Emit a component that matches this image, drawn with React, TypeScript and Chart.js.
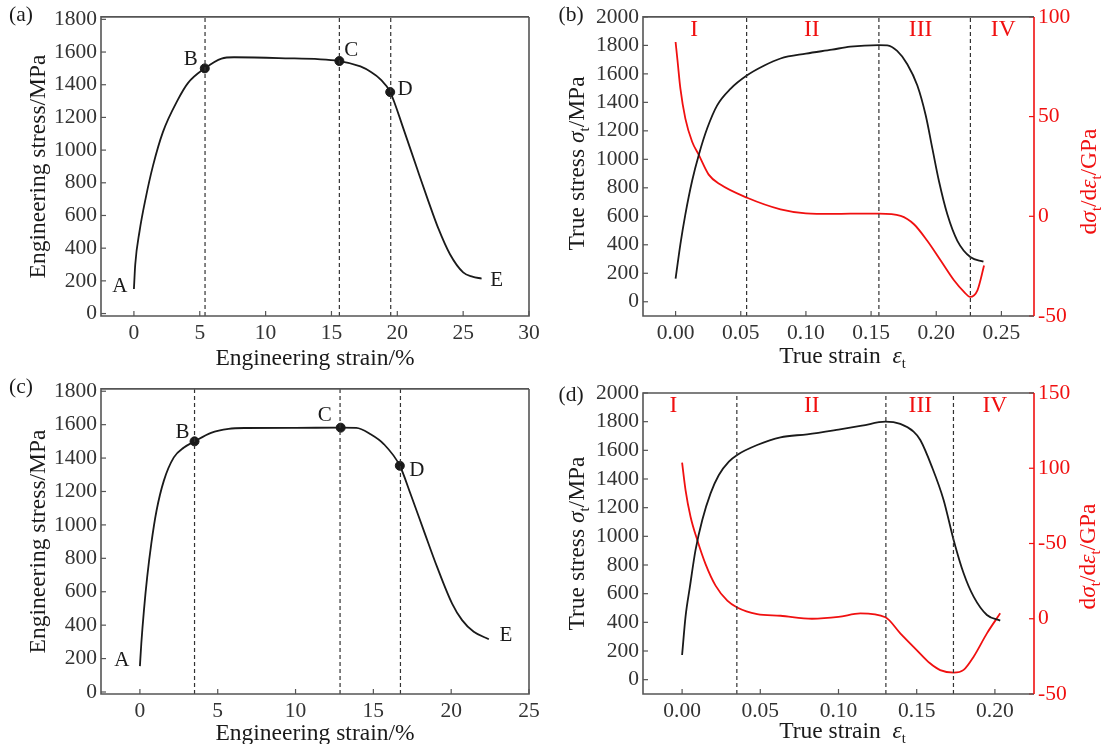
import React, { useEffect, useRef } from "react";
import { Chart, registerables } from "chart.js";
Chart.register(...registerables);

// ---------------- data ----------------
// (a) engineering stress-strain
const aStrain = [0, 0.1, 0.43, 0.89, 1.45, 2.2, 3.35, 4.1, 5.38, 6.65, 7.6, 11, 15.6, 17.2, 18.0, 18.7, 19.46, 20.47, 21.5, 22.37, 23.1, 24.0, 25.0, 25.7, 26.4];
const aStress = [150, 300, 505, 705, 905, 1110, 1310, 1410, 1500, 1560, 1568, 1563, 1545, 1512, 1478, 1435, 1355, 1130, 887, 685, 524, 363, 252, 226, 214];
const aMarkStrain = [5.38, 15.6, 19.46];
const aMarkStress = [1500, 1545, 1355];
const aDividers = [5.4, 15.6, 19.5];
const aXTicks = [0, 5, 10, 15, 20, 25, 30];
const aYTicks = [0, 200, 400, 600, 800, 1000, 1200, 1400, 1600, 1800];

// (b) true stress and hardening rate
const bStrain = [0, 0.0037, 0.0075, 0.0127, 0.0178, 0.0242, 0.0319, 0.0421, 0.0549, 0.0677, 0.0805, 0.1, 0.12, 0.134, 0.156, 0.1624, 0.17, 0.1778, 0.1855, 0.1919, 0.197, 0.2021, 0.2085, 0.2162, 0.2264, 0.2362];
const bStress = [162, 405, 614, 850, 1031, 1216, 1379, 1495, 1590, 1657, 1708, 1742, 1770, 1791, 1802, 1800, 1761, 1668, 1518, 1309, 1077, 846, 614, 428, 312, 282];
const bRateStrain = [0, 0.0015, 0.0037, 0.0075, 0.0127, 0.0178, 0.0254, 0.0344, 0.0549, 0.0805, 0.1, 0.12, 0.134, 0.156, 0.1727, 0.1829, 0.1931, 0.2034, 0.2136, 0.2213, 0.2259, 0.2316, 0.2367];
const bRate = [87.4, 78, 64, 49, 37.4, 30.8, 20.9, 15.9, 9.3, 3.5, 1.5, 1.2, 1.3, 1.3, 0.2, -4, -12.3, -22.2, -32.1, -37.9, -40.4, -37.1, -24.7];
const bDividers = [0.0545, 0.156, 0.2262];
const bRegionX = [0.0143, 0.1045, 0.188, 0.2514];
const bXTicks = [0, 0.05, 0.1, 0.15, 0.2, 0.25];
const bYTicks = [0, 200, 400, 600, 800, 1000, 1200, 1400, 1600, 1800, 2000];
const bY2Ticks = [-50, 0, 50, 100];
const bY2Labels = ["-50", "0", "50", "100"];

// (c) engineering stress-strain
const cStrain = [0, 0.09, 0.26, 0.47, 0.73, 1.07, 1.54, 2.18, 2.83, 3.51, 4.57, 5.7, 6.8, 10, 12.9, 13.9, 14.82, 15.67, 16.7, 17.39, 18.24, 19.1, 20.06, 20.7, 21.45, 22.42];
const cStress = [155, 290, 490, 690, 887, 1086, 1265, 1404, 1463, 1500, 1551, 1575, 1580, 1581, 1582, 1581, 1543, 1484, 1354, 1185, 966, 747, 529, 430, 360, 316];
const cMarkStrain = [3.51, 12.9, 16.7];
const cMarkStress = [1500, 1582, 1354];
const cDividers = [3.51, 12.86, 16.74];
const cXTicks = [0, 5, 10, 15, 20, 25];
const cYTicks = [0, 200, 400, 600, 800, 1000, 1200, 1400, 1600, 1800];

// (d) true stress and hardening rate
const dStrain = [0, 0.0022, 0.005, 0.0086, 0.0129, 0.0182, 0.0235, 0.0299, 0.0352, 0.048, 0.0629, 0.08, 0.1, 0.115, 0.13, 0.1395, 0.148, 0.1523, 0.1597, 0.1672, 0.1736, 0.18, 0.1864, 0.1949, 0.2034];
const dStress = [172, 440, 649, 905, 1114, 1300, 1428, 1521, 1568, 1637, 1691, 1712, 1745, 1772, 1800, 1784, 1730, 1672, 1486, 1254, 975, 742, 579, 451, 412];
const dRateStrain = [0, 0.0022, 0.0054, 0.0097, 0.015, 0.0214, 0.0289, 0.0352, 0.048, 0.0629, 0.083, 0.1, 0.114, 0.13, 0.1395, 0.15, 0.1585, 0.165, 0.1736, 0.18, 0.1864, 0.1949, 0.2034];
const dRate = [103.7, 85.5, 67.8, 52.3, 36.3, 22, 12, 7.5, 3.1, 2, 0, 1.2, 3.6, 1, -9.7, -20.8, -29.6, -34.1, -35.8, -34, -25.2, -9.7, 3.6];
const dDividers = [0.035, 0.1303, 0.1735];
const dRegionX = [-0.0055, 0.0829, 0.1523, 0.2];
const dXTicks = [0, 0.05, 0.1, 0.15, 0.2];
const dYTicks = [0, 200, 400, 600, 800, 1000, 1200, 1400, 1600, 1800, 2000];
const dY2Ticks = [-50, 0, 50, 100, 150];
const dY2Labels = ["-50", "0", "-50", "100", "150"];

const regionNames = ["I", "II", "III", "IV"];
const pointNames = ["A", "B", "C", "D", "E"];

// ---------------- styling ----------------
const SERIF = '"Liberation Serif", "Times New Roman", serif';
const RED = "#f01010";
const AXIS = "#555555";
const INK = "#1a1a1a";
const TICK_SIZE = 21.5;
const TITLE_SIZE = 23.5;
const LETTER_SIZE = 21;

type Seg = { t: string; it?: boolean; sub?: boolean };

function drawRich(ctx: CanvasRenderingContext2D, segs: Seg[], cx: number, cy: number, rot: number, size: number, color: string) {
  ctx.save();
  ctx.translate(cx, cy);
  ctx.rotate(rot);
  ctx.textBaseline = "alphabetic";
  ctx.textAlign = "left";
  let w = 0;
  const parts = segs.map((s) => {
    const fs = s.sub ? size * 0.62 : size;
    const font = `${s.it ? "italic " : ""}${fs}px ${SERIF}`;
    ctx.font = font;
    const mw = ctx.measureText(s.t).width;
    w += mw;
    return { ...s, font, mw };
  });
  let x = -w / 2;
  ctx.fillStyle = color;
  const base = size * 0.33;
  for (const p of parts) {
    ctx.font = p.font;
    ctx.fillText(p.t, x, base + (p.sub ? size * 0.22 : 0));
    x += p.mw;
  }
  ctx.restore();
}

type Title = { side: "bottom" | "left" | "right"; off: number; shift: number; segs: Seg[]; color: string };
type Overlay = {
  redRight?: boolean;
  tag: { text: string; x: number; y: number };
  letters?: { text: string; x: number; y: number; dx: number; dy: number }[];
  regions?: { text: string; x: number }[];
  titles: Title[];
};

function makeOverlay(o: Overlay) {
  return {
    id: "overlay",
    afterDraw(chart: any) {
      const ctx: CanvasRenderingContext2D = chart.ctx;
      const ca = chart.chartArea;
      ctx.save();
      // inward tick marks
      for (const id of Object.keys(chart.scales)) {
        const s = chart.scales[id];
        ctx.strokeStyle = id === "y2" ? RED : AXIS;
        ctx.lineWidth = 1.2;
        for (const t of s.ticks) {
          const p = s.getPixelForValue(t.value);
          ctx.beginPath();
          if (s.axis === "x") {
            ctx.moveTo(p, ca.bottom);
            ctx.lineTo(p, ca.bottom - 5);
          } else if (s.position === "left") {
            ctx.moveTo(ca.left, p);
            ctx.lineTo(ca.left + 5, p);
          } else {
            ctx.moveTo(ca.right, p);
            ctx.lineTo(ca.right - 5, p);
          }
          ctx.stroke();
        }
      }
      // frame
      ctx.lineWidth = 1.6;
      ctx.strokeStyle = AXIS;
      ctx.beginPath();
      ctx.moveTo(ca.right, ca.top);
      ctx.lineTo(ca.left, ca.top);
      ctx.lineTo(ca.left, ca.bottom);
      ctx.lineTo(ca.right, ca.bottom);
      if (!o.redRight) ctx.lineTo(ca.right, ca.top);
      ctx.stroke();
      if (o.redRight) {
        ctx.strokeStyle = RED;
        ctx.beginPath();
        ctx.moveTo(ca.right, ca.top);
        ctx.lineTo(ca.right, ca.bottom);
        ctx.stroke();
      }
      // panel tag
      ctx.fillStyle = INK;
      ctx.font = `${TICK_SIZE}px ${SERIF}`;
      ctx.textAlign = "center";
      ctx.textBaseline = "middle";
      ctx.fillText(o.tag.text, o.tag.x, o.tag.y);
      // point letters
      const xs = chart.scales.x;
      const ys = chart.scales.y;
      ctx.font = `${LETTER_SIZE}px ${SERIF}`;
      for (const l of o.letters || []) {
        ctx.fillText(l.text, xs.getPixelForValue(l.x) + l.dx, ys.getPixelForValue(l.y) + l.dy);
      }
      // region labels
      ctx.fillStyle = RED;
      ctx.font = `${TITLE_SIZE}px ${SERIF}`;
      for (const r of o.regions || []) {
        ctx.fillText(r.text, xs.getPixelForValue(r.x), ca.top + 13);
      }
      // axis titles
      const cxm = (ca.left + ca.right) / 2;
      const cym = (ca.top + ca.bottom) / 2;
      for (const t of o.titles) {
        if (t.side === "bottom") drawRich(ctx, t.segs, cxm + t.shift, ca.bottom + t.off, 0, TITLE_SIZE, t.color);
        else if (t.side === "left") drawRich(ctx, t.segs, ca.left - t.off, cym + t.shift, -Math.PI / 2, TITLE_SIZE, t.color);
        else drawRich(ctx, t.segs, ca.right + t.off, cym + t.shift, -Math.PI / 2, TITLE_SIZE, t.color);
      }
      ctx.restore();
    },
  };
}

function pts(xs: number[], ys: number[]) {
  return xs.map((x, i) => ({ x, y: ys[i] }));
}

function curve(xs: number[], ys: number[], color: string, yAxisID = "y") {
  return {
    data: pts(xs, ys),
    borderColor: color,
    backgroundColor: color,
    borderWidth: 1.8,
    pointRadius: 0,
    showLine: true,
    fill: false,
    cubicInterpolationMode: "monotone",
    yAxisID,
  };
}

function dividers(xs: number[], yMin: number, yMax: number) {
  return xs.map((x) => ({
    data: [{ x, y: yMin }, { x, y: yMax }],
    borderColor: "#333",
    borderWidth: 1.2,
    borderDash: [4, 3],
    pointRadius: 0,
    showLine: true,
    fill: false,
    yAxisID: "y",
  }));
}

function markers(xs: number[], ys: number[]) {
  return {
    data: pts(xs, ys),
    showLine: false,
    pointRadius: 4.5,
    pointBackgroundColor: INK,
    pointBorderColor: INK,
    yAxisID: "y",
  };
}

function scaleOpts(min: number, max: number, ticks: number[], fmt: (v: number) => string, fit: (s: any) => void, position: string, color = "#333") {
  return {
    type: "linear",
    position,
    min,
    max,
    grid: { display: false, drawTicks: false },
    border: { display: false },
    afterBuildTicks: (s: any) => {
      s.ticks = ticks.map((v) => ({ value: v }));
    },
    afterFit: fit,
    ticks: {
      font: { family: SERIF, size: TICK_SIZE },
      color,
      padding: 4,
      maxRotation: 0,
      autoSkip: false,
      callback: (v: any) => fmt(Number(v)),
    },
  };
}

function baseOptions(padding: any, scales: any) {
  return {
    responsive: false,
    devicePixelRatio: 1,
    animation: false,
    layout: { padding },
    events: [],
    plugins: { legend: { display: false }, tooltip: { enabled: false } },
    scales,
  };
}

const int = (v: number) => String(Math.round(v));
const dec2 = (v: number) => v.toFixed(2);
const lookup = (ticks: number[], labels: string[]) => (v: number) => {
  const i = ticks.findIndex((t) => Math.abs(t - v) < 1e-9);
  return i >= 0 ? labels[i] : "";
};

function cfgA() {
  return {
    type: "scatter",
    data: {
      datasets: [...dividers(aDividers, -15, 1815), curve(aStrain, aStress, INK), markers(aMarkStrain, aMarkStress)],
    },
    options: baseOptions(
      { top: 13, right: 21, left: 0, bottom: 0 },
      {
        x: scaleOpts(-2.5, 30, aXTicks, int, (s) => (s.height = 56), "bottom"),
        y: scaleOpts(-15, 1815, aYTicks, int, (s) => (s.width = 101), "left"),
      }
    ),
    plugins: [
      makeOverlay({
        tag: { text: "(a)", x: 21, y: 15 },
        letters: [
          { text: pointNames[0], x: aStrain[0], y: aStress[0], dx: -14, dy: -3 },
          { text: pointNames[1], x: aMarkStrain[0], y: aMarkStress[0], dx: -14, dy: -9 },
          { text: pointNames[2], x: aMarkStrain[1], y: aMarkStress[1], dx: 12, dy: -11 },
          { text: pointNames[3], x: aMarkStrain[2], y: aMarkStress[2], dx: 15, dy: -3 },
          { text: pointNames[4], x: aStrain[aStrain.length - 1], y: aStress[aStress.length - 1], dx: 15, dy: 2 },
        ],
        titles: [
          { side: "bottom", off: 41, shift: 0, segs: [{ t: "Engineering strain/%" }], color: INK },
          { side: "left", off: 64, shift: 0, segs: [{ t: "Engineering stress/MPa" }], color: INK },
        ],
      }),
    ],
  };
}

function cfgB() {
  return {
    type: "scatter",
    data: {
      datasets: [...dividers(bDividers, -100, 2000), curve(bStrain, bStress, INK), curve(bRateStrain, bRate, RED, "y2")],
    },
    options: baseOptions(
      { top: 14, right: 0, left: 0, bottom: 0 },
      {
        x: scaleOpts(-0.025, 0.275, bXTicks, dec2, (s) => (s.height = 56), "bottom"),
        y: scaleOpts(-100, 2000, bYTicks, int, (s) => (s.width = 93), "left"),
        y2: scaleOpts(-50, 100, bY2Ticks, lookup(bY2Ticks, bY2Labels), (s) => (s.width = 67), "right", RED),
      }
    ),
    plugins: [
      makeOverlay({
        redRight: true,
        tag: { text: "(b)", x: 21, y: 15 },
        regions: regionNames.map((t, i) => ({ text: t, x: bRegionX[i] })),
        titles: [
          { side: "bottom", off: 39, shift: 4, segs: [{ t: "True strain  " }, { t: "ε", it: true }, { t: "t", sub: true }], color: INK },
          { side: "left", off: 67, shift: -3, segs: [{ t: "True stress " }, { t: "σ", it: true }, { t: "t", sub: true }, { t: "/MPa" }], color: INK },
          { side: "right", off: 54, shift: 15, segs: [{ t: "d" }, { t: "σ", it: true }, { t: "t", sub: true }, { t: "/d" }, { t: "ε", it: true }, { t: "t", sub: true }, { t: "/GPa" }], color: RED },
        ],
      }),
    ],
  };
}

function cfgC() {
  return {
    type: "scatter",
    data: {
      datasets: [...dividers(cDividers, -12, 1814), curve(cStrain, cStress, INK), markers(cMarkStrain, cMarkStress)],
    },
    options: baseOptions(
      { top: 16, right: 21, left: 0, bottom: 0 },
      {
        x: scaleOpts(-2.5, 25, cXTicks, int, (s) => (s.height = 50), "bottom"),
        y: scaleOpts(-12, 1814, cYTicks, int, (s) => (s.width = 101), "left"),
      }
    ),
    plugins: [
      makeOverlay({
        tag: { text: "(c)", x: 21, y: 15 },
        letters: [
          { text: pointNames[0], x: cStrain[0], y: cStress[0], dx: -18, dy: -6 },
          { text: pointNames[1], x: cMarkStrain[0], y: cMarkStress[0], dx: -12, dy: -9 },
          { text: pointNames[2], x: cMarkStrain[1], y: cMarkStress[1], dx: -16, dy: -12 },
          { text: pointNames[3], x: cMarkStrain[2], y: cMarkStress[2], dx: 17, dy: 5 },
          { text: pointNames[4], x: cStrain[cStrain.length - 1], y: cStress[cStress.length - 1], dx: 17, dy: -4 },
        ],
        titles: [
          { side: "bottom", off: 38, shift: 0, segs: [{ t: "Engineering strain/%" }], color: INK },
          { side: "left", off: 64, shift: 0, segs: [{ t: "Engineering stress/MPa" }], color: INK },
        ],
      }),
    ],
  };
}

function cfgD() {
  return {
    type: "scatter",
    data: {
      datasets: [...dividers(dDividers, -100, 2000), curve(dStrain, dStress, INK), curve(dRateStrain, dRate, RED, "y2")],
    },
    options: baseOptions(
      { top: 21, right: 0, left: 0, bottom: 0 },
      {
        x: scaleOpts(-0.025, 0.225, dXTicks, dec2, (s) => (s.height = 50), "bottom"),
        y: scaleOpts(-100, 2000, dYTicks, int, (s) => (s.width = 93), "left"),
        y2: scaleOpts(-50, 150, dY2Ticks, lookup(dY2Ticks, dY2Labels), (s) => (s.width = 67), "right", RED),
      }
    ),
    plugins: [
      makeOverlay({
        redRight: true,
        tag: { text: "(d)", x: 21, y: 23 },
        regions: regionNames.map((t, i) => ({ text: t, x: dRegionX[i] })),
        titles: [
          { side: "bottom", off: 36, shift: 4, segs: [{ t: "True strain  " }, { t: "ε", it: true }, { t: "t", sub: true }], color: INK },
          { side: "left", off: 67, shift: 0, segs: [{ t: "True stress " }, { t: "σ", it: true }, { t: "t", sub: true }, { t: "/MPa" }], color: INK },
          { side: "right", off: 53, shift: 13, segs: [{ t: "d" }, { t: "σ", it: true }, { t: "t", sub: true }, { t: "/d" }, { t: "ε", it: true }, { t: "t", sub: true }, { t: "/GPa" }], color: RED },
        ],
      }),
    ],
  };
}

function Panel({ make, left, top, width, height }: { make: () => any; left: number; top: number; width: number; height: number }) {
  const ref = useRef<HTMLCanvasElement>(null);
  useEffect(() => {
    const chart = new Chart(ref.current as HTMLCanvasElement, make());
    return () => chart.destroy();
  }, [make]);
  return <canvas ref={ref} width={width} height={height} style={{ position: "absolute", left, top, width, height, display: "block" }} />;
}

export default function App() {
  return (
    <div style={{ position: "absolute", left: 0, top: 0, width: 1101, height: 744, background: "#fff", overflow: "hidden" }}>
      <Panel make={cfgA} left={0} top={0} width={550} height={372} />
      <Panel make={cfgB} left={550} top={0} width={551} height={372} />
      <Panel make={cfgC} left={0} top={372} width={550} height={372} />
      <Panel make={cfgD} left={550} top={372} width={551} height={372} />
    </div>
  );
}
